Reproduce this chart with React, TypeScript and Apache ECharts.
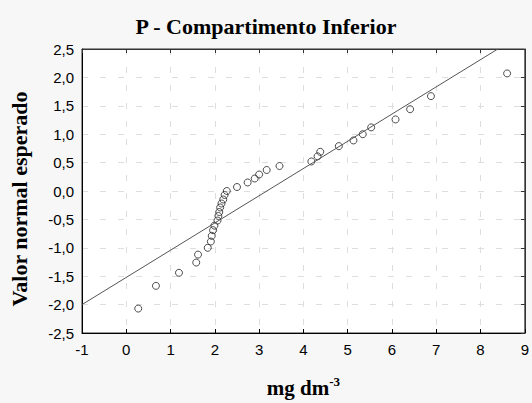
import React, { useEffect, useRef } from "react";
import * as echarts from "echarts";

const titleText = "P - Compartimento Inferior";
const xAxisTitle = "mg dm";
const xAxisTitleSup = "-3";
const yAxisTitle = "Valor normal esperado";

// observed values (mg dm-3)
const observedX = [
  0.27, 0.67, 1.19, 1.58, 1.62, 1.84, 1.91, 1.93, 1.96, 1.99, 2.06, 2.08,
  2.1, 2.12, 2.15, 2.19, 2.22, 2.27, 2.5, 2.74, 2.9, 3.0, 3.17, 3.46, 4.18,
  4.32, 4.38, 4.8, 5.13, 5.34, 5.53, 6.08, 6.41, 6.88, 8.6,
];
// expected normal values
const expectedY = [
  -2.07, -1.67, -1.44, -1.26, -1.12, -1.0, -0.89, -0.79, -0.69, -0.61, -0.52,
  -0.44, -0.37, -0.29, -0.22, -0.15, -0.07, 0.0, 0.07, 0.15, 0.22, 0.29, 0.37,
  0.44, 0.52, 0.61, 0.69, 0.79, 0.89, 1.0, 1.12, 1.26, 1.44, 1.67, 2.07,
];
// reference line endpoints
const lineX = [-1, 8.39];
const lineY = [-2.0, 2.5];

const xMin = -1, xMax = 9, xStep = 1;
const yMin = -2.5, yMax = 2.5, yStep = 0.5;

const fmtComma = (v: number) => v.toFixed(1).replace(".", ",");

export default function App() {
  const ref = useRef<HTMLDivElement>(null);
  useEffect(() => {
    if (!ref.current) return;
    const chart = echarts.init(ref.current, undefined, { renderer: "svg" });
    const labelFont = { fontFamily: "Liberation Sans", fontSize: 15, color: "#000" };
    const split = { show: true, lineStyle: { color: "#dedede", type: [6, 12] as any, width: 1 } };
    chart.setOption({
      animation: false,
      backgroundColor: "#f7f7f7",
      title: {
        text: titleText,
        left: "center",
        top: 10,
        textStyle: { fontFamily: "Liberation Serif", fontWeight: "bold", fontSize: 22, color: "#000" },
      },
      grid: {
        left: 73, right: 3, top: 49, bottom: 58,
        show: true, backgroundColor: "#ffffff", borderColor: "#333", borderWidth: 1,
      },
      xAxis: [
        {
          type: "value", min: xMin, max: xMax, interval: xStep, position: "bottom",
          axisLine: { show: true, onZero: false, lineStyle: { color: "#000", width: 1 } },
          axisTick: { show: true, inside: true, length: 4, lineStyle: { color: "#000" } },
          axisLabel: { ...labelFont, margin: 9 },
          splitLine: split,
          name: `${xAxisTitle}{sup|${xAxisTitleSup}}`,
          nameLocation: "middle",
          nameGap: 42,
          nameTextStyle: {
            fontFamily: "Liberation Serif", fontWeight: "bold", fontSize: 21, color: "#000",
            rich: { sup: { fontFamily: "Liberation Serif", fontWeight: "bold", fontSize: 13, color: "#000", verticalAlign: "top", padding: [0, 0, 12, 0] } },
          },
        },
        {
          type: "value", min: xMin, max: xMax, interval: xStep, position: "top",
          axisLine: { show: true, onZero: false, lineStyle: { color: "#333", width: 1 } },
          axisTick: { show: true, inside: true, length: 4, lineStyle: { color: "#333" } },
          axisLabel: { show: false },
          splitLine: { show: false },
        },
      ],
      yAxis: [
        {
          type: "value", min: yMin, max: yMax, interval: yStep, position: "left",
          axisLine: { show: true, onZero: false, lineStyle: { color: "#000", width: 1 } },
          axisTick: { show: false },
          axisLabel: { ...labelFont, margin: 8, formatter: fmtComma },
          splitLine: split,
          name: yAxisTitle,
          nameLocation: "middle",
          nameGap: 52,
          nameRotate: 90,
          nameTextStyle: { fontFamily: "Liberation Serif", fontWeight: "bold", fontSize: 22, color: "#000", padding: [0, 16, 0, 0] },
        },
        {
          type: "value", min: yMin, max: yMax, interval: yStep, position: "right",
          axisLine: { show: true, onZero: false, lineStyle: { color: "#333", width: 1 } },
          axisTick: { show: true, inside: true, length: 4, lineStyle: { color: "#333" } },
          axisLabel: { show: false },
          splitLine: { show: false },
        },
      ],
      series: [
        {
          type: "line",
          xAxisIndex: 0, yAxisIndex: 0,
          data: lineX.map((x, i) => [x, lineY[i]]),
          showSymbol: false,
          symbol: "none",
          lineStyle: { color: "#555", width: 1 },
          silent: true,
        },
        {
          type: "scatter",
          xAxisIndex: 0, yAxisIndex: 0,
          data: observedX.map((x, i) => [x, expectedY[i]]),
          symbol: "circle",
          symbolSize: 7,
          itemStyle: { color: "rgba(255,255,255,0)", borderColor: "#222", borderWidth: 1 },
        },
      ],
    });
    return () => chart.dispose();
  }, []);
  return (
    <div
      ref={ref}
      style={{ position: "fixed", left: 0, top: 0, width: 532, height: 403 }}
    />
  );
}
